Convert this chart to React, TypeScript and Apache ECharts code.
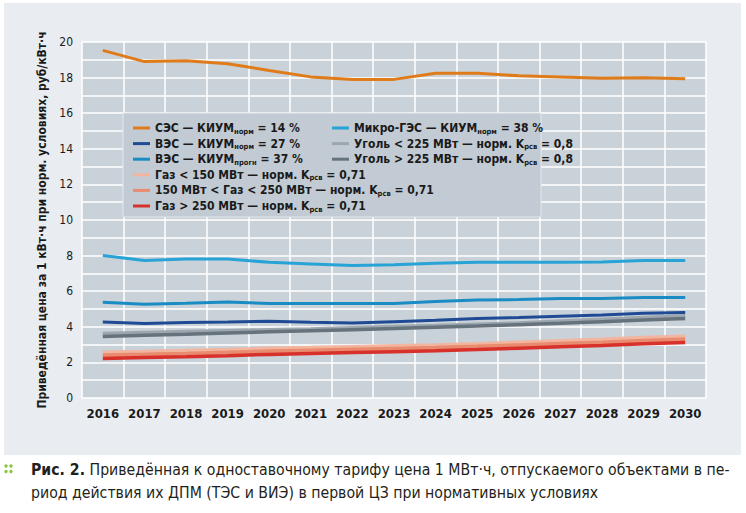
import React, { useEffect, useRef } from "react";
import * as echarts from "echarts";

const years = ["2016","2017","2018","2019","2020","2021","2022","2023","2024","2025","2026","2027","2028","2029","2030"];

const sesNorm = [19.53, 18.9, 18.95, 18.78, 18.4, 18.04, 17.9, 17.9, 18.25, 18.25, 18.1, 18.04, 17.97, 17.99, 17.93];
const vesNorm = [4.27, 4.18, 4.24, 4.27, 4.31, 4.25, 4.21, 4.29, 4.37, 4.46, 4.52, 4.59, 4.66, 4.76, 4.8];
const vesProgn = [5.38, 5.27, 5.33, 5.4, 5.31, 5.31, 5.31, 5.31, 5.42, 5.5, 5.53, 5.59, 5.59, 5.65, 5.65];
const gasLt150 = [2.55, 2.6, 2.65, 2.71, 2.78, 2.82, 2.87, 2.92, 2.97, 3.04, 3.12, 3.2, 3.28, 3.38, 3.45];
const gas150to250 = [2.4, 2.44, 2.49, 2.55, 2.62, 2.67, 2.72, 2.77, 2.82, 2.89, 2.97, 3.05, 3.12, 3.22, 3.3];
const gasGt250 = [2.22, 2.27, 2.32, 2.38, 2.45, 2.5, 2.55, 2.6, 2.65, 2.72, 2.8, 2.88, 2.95, 3.05, 3.12];
const microGes = [8.0, 7.72, 7.81, 7.81, 7.62, 7.53, 7.44, 7.49, 7.57, 7.62, 7.62, 7.62, 7.64, 7.72, 7.72];
const coalLt225 = [3.63, 3.68, 3.73, 3.78, 3.83, 3.88, 3.95, 4.02, 4.08, 4.15, 4.22, 4.32, 4.42, 4.52, 4.62];
const coalGt225 = [3.45, 3.52, 3.58, 3.65, 3.72, 3.78, 3.84, 3.9, 3.97, 4.04, 4.12, 4.2, 4.29, 4.38, 4.47];

const names = {
  ses: "СЭС — КИУМнорм = 14 %",
  vesN: "ВЭС — КИУМнорм = 27 %",
  vesP: "ВЭС — КИУМпрогн = 37 %",
  g1: "Газ < 150 МВт — норм. Kрсв = 0,71",
  g2: "150 МВт < Газ < 250 МВт — норм. Kрсв = 0,71",
  g3: "Газ > 250 МВт — норм. Kрсв = 0,71",
  micro: "Микро-ГЭС — КИУМнорм = 38 %",
  c1: "Уголь < 225 МВт — норм. Kрсв = 0,8",
  c2: "Уголь > 225 МВт — норм. Kрсв = 0,8",
};

const richNames: Record<string, string> = {
  [names.ses]: "СЭС — КИУМ{s|норм} = 14 %",
  [names.vesN]: "ВЭС — КИУМ{s|норм} = 27 %",
  [names.vesP]: "ВЭС — КИУМ{s|прогн} = 37 %",
  [names.g1]: "Газ < 150 МВт — норм. K{s|рсв} = 0,71",
  [names.g2]: "150 МВт < Газ < 250 МВт — норм. K{s|рсв} = 0,71",
  [names.g3]: "Газ > 250 МВт — норм. K{s|рсв} = 0,71",
  [names.micro]: "Микро-ГЭС — КИУМ{s|норм} = 38 %",
  [names.c1]: "Уголь < 225 МВт — норм. K{s|рсв} = 0,8",
  [names.c2]: "Уголь > 225 МВт — норм. K{s|рсв} = 0,8",
};

const FONT = "'DejaVu Sans Condensed', 'Liberation Sans Narrow', 'Roboto', sans-serif";

export default function App() {
  const ref = useRef<HTMLDivElement>(null);
  useEffect(() => {
    if (!ref.current) return;
    const chart = echarts.init(ref.current, null, { renderer: "svg" });
    const mk = (name: string, data: number[], color: string, width = 3, z = 2) => ({
      name,
      type: "line",
      data,
      symbol: "none",
      z,
      lineStyle: { color, width },
      itemStyle: { color },
    });
    const legendText = {
      fontFamily: FONT,
      fontWeight: "bold",
      fontSize: 12,
      color: "#1a1a1a",
      rich: {
        s: { fontFamily: FONT, fontWeight: "bold", fontSize: 7.5, color: "#1a1a1a", padding: [6, 0, 0, 0] },
      },
    };
    chart.setOption({
      animation: false,
      backgroundColor: "#ffffff",
      graphic: [
        { type: "rect", z: -10, shape: { x: 4, y: 3, width: 737, height: 452 }, style: { fill: "#e9edf1" } },
        { type: "rect", z: 50, shape: { x: 123, y: 113, width: 418, height: 104 }, style: { fill: "#c2cbd3", stroke: "#e3e8ec", lineWidth: 1 } },
        { type: "circle", shape: { cx: 6, cy: 466, r: 1.7 }, style: { fill: "#8cc63f" } },
        { type: "circle", shape: { cx: 11, cy: 466, r: 1.7 }, style: { fill: "#8cc63f" } },
        { type: "circle", shape: { cx: 6, cy: 471.5, r: 1.7 }, style: { fill: "#8cc63f" } },
        { type: "circle", shape: { cx: 11, cy: 471.5, r: 1.7 }, style: { fill: "#8cc63f" } },
        {
          type: "text",
          x: 31,
          y: 458,
          style: {
            text: "{b|Рис. 2.} Приведённая к одноставочному тарифу цена 1 МВт·ч, отпускаемого объектами в пе-\nриод действия их ДПМ (ТЭС и ВИЭ) в первой ЦЗ при нормативных условиях",
            fontFamily: FONT,
            fontSize: 15.7,
            lineHeight: 23,
            fill: "#231f20",
            rich: { b: { fontFamily: FONT, fontSize: 15.7, lineHeight: 23, fontWeight: "bold", fill: "#231f20" } },
          },
        },
      ],
      grid: { left: 82, right: 40, top: 42, bottom: 115, show: true, backgroundColor: "#c9d1d9", borderWidth: 0 },
      legend: [
        {
          z: 60,
          orient: "vertical",
          left: 128,
          top: 117,
          itemWidth: 17,
          itemHeight: 3,
          itemGap: 2.6,
          icon: "rect",
          data: [names.ses, names.vesN, names.vesP, names.g1, names.g2, names.g3],
          formatter: (n: string) => richNames[n] || n,
          textStyle: legendText,
        },
        {
          z: 60,
          orient: "vertical",
          left: 327,
          top: 117,
          itemWidth: 17,
          itemHeight: 3,
          itemGap: 2.6,
          icon: "rect",
          data: [names.micro, names.c1, names.c2],
          formatter: (n: string) => richNames[n] || n,
          textStyle: legendText,
        },
      ],
      xAxis: {
        type: "category",
        data: years,
        boundaryGap: true,
        axisLine: { show: false },
        axisTick: { show: false },
        axisLabel: { interval: 0, fontFamily: FONT, fontWeight: "bold", fontSize: 13, color: "#1a1a1a", margin: 9 },
        splitLine: { show: true, interval: 0, lineStyle: { color: "#ffffff", width: 1.5 } },
      },
      yAxis: {
        type: "value",
        min: 0,
        max: 20,
        interval: 1,
        name: "Приведённая цена за 1 кВт·ч при норм. условиях, руб/кВт·ч",
        nameLocation: "middle",
        nameGap: 34,
        nameTextStyle: { fontFamily: FONT, fontWeight: "bold", fontSize: 12, color: "#1a1a1a" },
        axisLine: { show: false },
        axisTick: { show: false },
        axisLabel: {
          fontFamily: FONT,
          fontSize: 12,
          color: "#1a1a1a",
          margin: 9,
          formatter: (v: number) => (v % 2 === 0 ? String(v) : ""),
        },
        splitLine: { show: true, lineStyle: { color: "#ffffff", width: 1.5 } },
      },
      series: [
        mk(names.ses, sesNorm, "#e07b1a"),
        mk(names.micro, microGes, "#27a3d6"),
        mk(names.vesP, vesProgn, "#1a8cc4"),
        mk(names.vesN, vesNorm, "#1f4b94"),
        mk(names.c1, coalLt225, "#9ba6af", 3.5),
        mk(names.c2, coalGt225, "#67737c", 3.5),
        mk(names.g1, gasLt150, "#f2b5a0", 4),
        mk(names.g2, gas150to250, "#e98b6e", 4),
        mk(names.g3, gasGt250, "#d8302a", 3.5),
      ],
    });
    return () => chart.dispose();
  }, []);
  return <div ref={ref} style={{ position: "fixed", left: 0, top: 0, width: 746, height: 513 }} />;
}
